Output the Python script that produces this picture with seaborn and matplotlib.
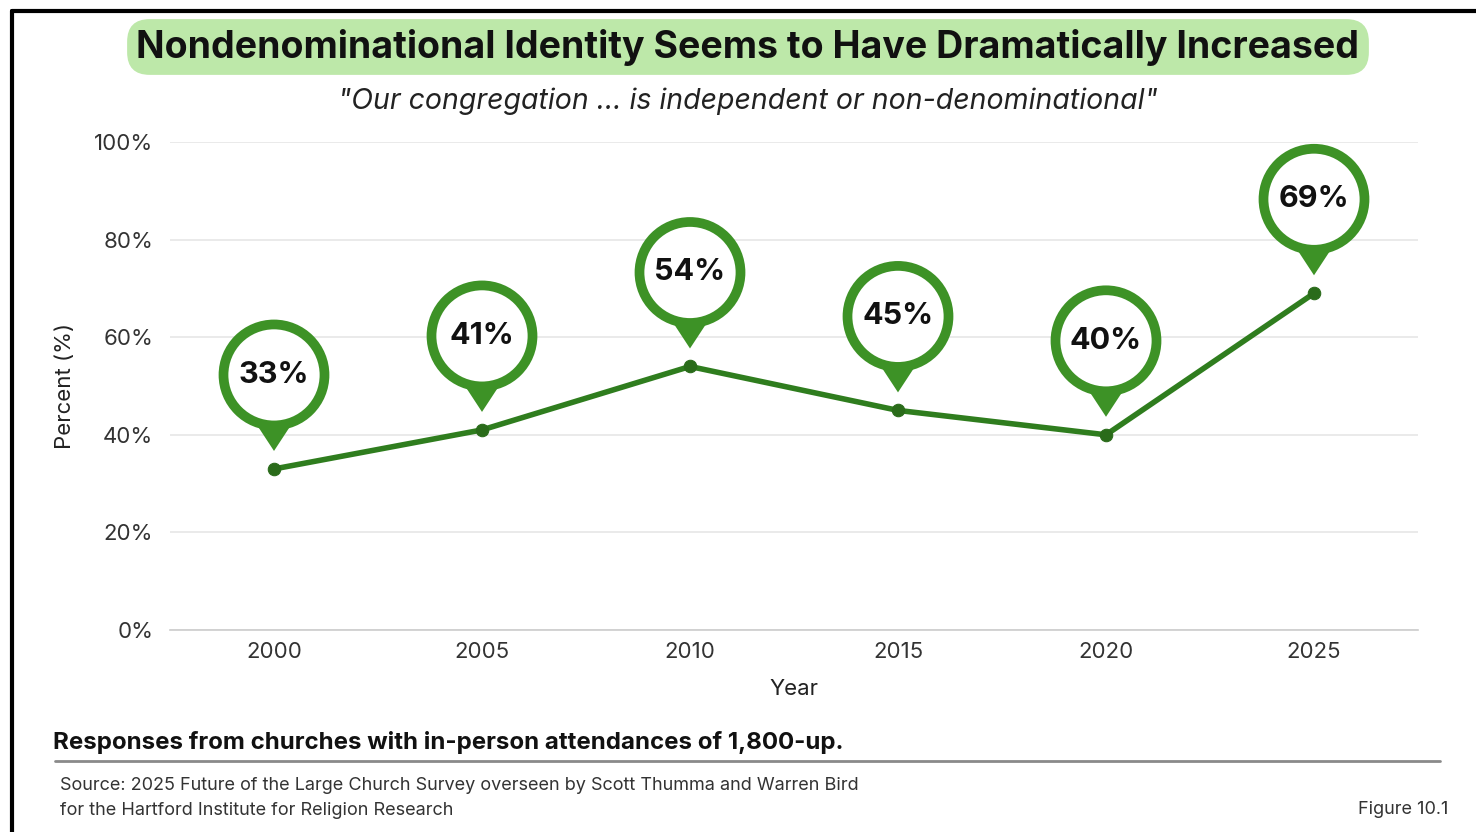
import matplotlib
matplotlib.use("Agg")
import matplotlib.pyplot as plt
import matplotlib.transforms as mtransforms
from matplotlib.patches import Circle, Polygon
from matplotlib.lines import Line2D
import seaborn as sns
import pandas as pd

years = [2000, 2005, 2010, 2015, 2020, 2025]
percent = [33, 41, 54, 45, 40, 69]
y_ticks = [0, 20, 40, 60, 80, 100]
y_tick_labels = ["0%", "20%", "40%", "60%", "80%", "100%"]

title = "Nondenominational Identity Seems to Have Dramatically Increased"
subtitle = "\"Our congregation ... is independent or non-denominational\""
note = "Responses from churches with in-person attendances of 1,800-up."
source = ("Source: 2025 Future of the Large Church Survey overseen by Scott Thumma and Warren Bird\n"
          "for the Hartford Institute for Religion Research")
fig_label = "Figure 10.1"

PIN_GREEN = "#3d9226"
LINE_GREEN = "#2f7d1e"
DOT_GREEN = "#2a6b1a"

sns.set_theme(style="white")
plt.rcParams["font.family"] = ["Inter", "DejaVu Sans"]

df = pd.DataFrame({"Year": years, "Percent": percent})

fig = plt.figure(figsize=(14.76, 8.32), dpi=100)
ax = fig.add_axes([170 / 1476, 1 - 630 / 832, (1418 - 170) / 1476, (630 - 142) / 832])

sns.lineplot(data=df, x="Year", y="Percent", ax=ax, color=LINE_GREEN, linewidth=4,
             marker="o", markersize=9, markerfacecolor=DOT_GREEN,
             markeredgecolor=DOT_GREEN, zorder=3)

ax.set_xlim(1997.5, 2027.5)
ax.set_ylim(0, 100)
ax.set_xticks(years)
ax.set_xticklabels([str(y) for y in years])
ax.set_yticks(y_ticks)
ax.set_yticklabels(y_tick_labels)
ax.tick_params(axis="both", length=0, labelsize=16, labelcolor="#333333")
ax.tick_params(axis="y", pad=12)
ax.tick_params(axis="x", pad=9)
ax.grid(axis="y", color="#e6e6e6", linewidth=1.2)
ax.set_axisbelow(True)
for side in ["left", "right", "top"]:
    ax.spines[side].set_visible(False)
ax.spines["bottom"].set_color("#cccccc")
ax.spines["bottom"].set_linewidth(1.2)
ax.set_xlabel("Year", fontsize=16, color="#222222", labelpad=12)
ax.set_ylabel("Percent (%)", fontsize=16, color="#222222", labelpad=14)

# Pin-shaped value callouts above each point (shape sized in inches)
for x, y in zip(years, percent):
    offset = fig.dpi_scale_trans + mtransforms.ScaledTranslation(x, y, ax.transData)
    tail = Polygon([(-0.21, 0.50), (0.21, 0.50), (0.0, 0.18)], closed=True,
                   facecolor=PIN_GREEN, edgecolor="none", transform=offset, zorder=4,
                   clip_on=False)
    ring = Circle((0, 0.94), 0.505, facecolor="white", edgecolor=PIN_GREEN,
                  linewidth=7, transform=offset, zorder=5, clip_on=False)
    ax.add_patch(tail)
    ax.add_patch(ring)
    ax.text(0, 0.94, f"{y}%", transform=offset, ha="center", va="center",
            fontsize=22, fontweight="bold", color="#111111", zorder=6)

# Heading with light green rounded band
fig.text(748 / 1476, 1 - 47 / 832, title, ha="center", va="center", fontsize=27,
         fontweight="bold", color="#111111",
         bbox=dict(boxstyle="round,pad=0.25,rounding_size=0.6", facecolor="#bde8a9",
                   edgecolor="none"))
fig.text(748 / 1476, 1 - 101 / 832, subtitle, ha="center", va="center", fontsize=20.5,
         style="italic", color="#222222")

# Footer
fig.text(53 / 1476, 1 - 743 / 832, note, ha="left", va="center", fontsize=17.3,
         fontweight="bold", color="#111111")
fig.add_artist(Line2D([55 / 1476, 1440 / 1476], [1 - 761 / 832, 1 - 761 / 832],
                      color="#8a8a8a", linewidth=2))
fig.text(60 / 1476, 1 - 798 / 832, source, ha="left", va="center", fontsize=13,
         color="#333333", linespacing=1.6)
fig.text(1448 / 1476, 1 - 810 / 832, fig_label, ha="right", va="center", fontsize=13,
         color="#333333")

# Frame edges
fig.add_artist(Line2D([12 / 1476, 12 / 1476], [0, 1 - 11 / 832], color="black", linewidth=3))
fig.add_artist(Line2D([12 / 1476, 1], [1 - 11 / 832, 1 - 11 / 832], color="black", linewidth=3))

fig.savefig("out.png", dpi=100, facecolor="white")
